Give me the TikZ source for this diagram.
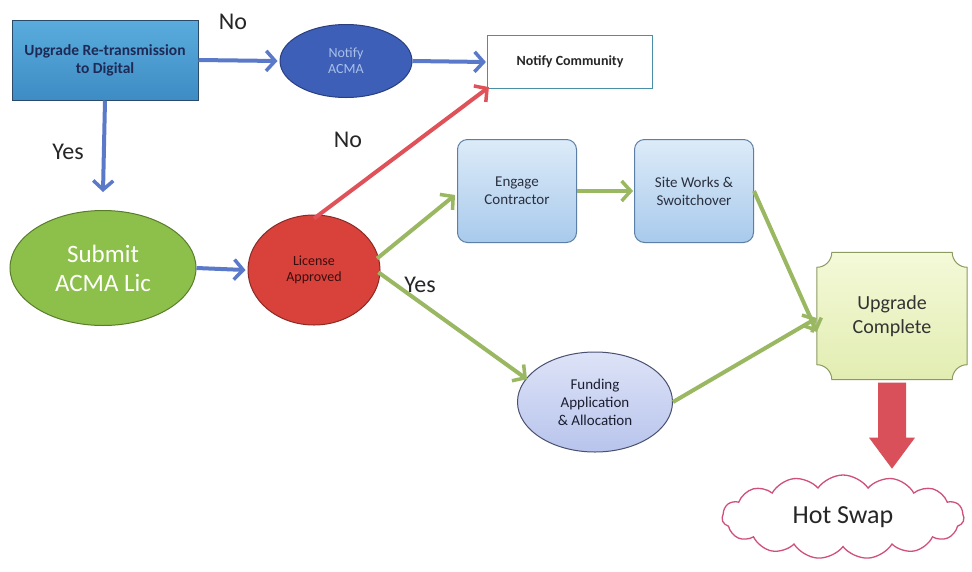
\documentclass[tikz,border=0pt]{standalone}
\usepackage{fontspec}
\setmainfont{Carlito}
\usetikzlibrary{arrows.meta,shapes.geometric,shapes.symbols}
\definecolor{bluearr}{HTML}{5B79C9}
\definecolor{greenarr}{HTML}{9AB862}
\definecolor{redarr}{HTML}{E0525A}
\definecolor{upD}{HTML}{2B4A6A}
\definecolor{upT}{HTML}{5AACDD}
\definecolor{upB}{HTML}{3D8CC4}
\definecolor{upTx}{HTML}{1E2A55}
\definecolor{acD}{HTML}{2A3F7F}
\definecolor{acF}{HTML}{3E5FB8}
\definecolor{acTx}{HTML}{A9C0E8}
\definecolor{ncD}{HTML}{4A8FA8}
\definecolor{suD}{HTML}{5A7D2A}
\definecolor{suF}{HTML}{8CC04B}
\definecolor{liD}{HTML}{8A2A25}
\definecolor{liF}{HTML}{D9413B}
\definecolor{liTx}{HTML}{3A0E0E}
\definecolor{bbD}{HTML}{5B7FA6}
\definecolor{bbT}{HTML}{DCEBF8}
\definecolor{bbB}{HTML}{A9CAEC}
\definecolor{bbTx}{HTML}{2A3040}
\definecolor{fuD}{HTML}{4A5070}
\definecolor{fuT}{HTML}{DDE3F7}
\definecolor{fuB}{HTML}{B8C4EC}
\definecolor{fuTx}{HTML}{1A1E30}
\definecolor{ucD}{HTML}{8A9A60}
\definecolor{ucT}{HTML}{F4F9D8}
\definecolor{ucB}{HTML}{E2EDB2}
\definecolor{hsD}{HTML}{D0507A}
\definecolor{baF}{HTML}{D9505A}
\tikzset{
  lbl/.style={font=\fontsize{24}{26}\selectfont, text=black!85},
  tip/.style={-{Straight Barb[length=9pt,width=20pt,line width=3.5pt]}},
  barrow/.style={draw=bluearr, line width=4pt, tip},
  garrow/.style={draw=greenarr, line width=4pt, tip},
  rarrow/.style={draw=redarr, line width=4pt, tip},
  bluebox/.style={rounded corners=10pt, draw=bbD, line width=1pt, top color=bbT, bottom color=bbB, minimum width=119pt, minimum height=103pt, align=center, font=\fontsize{15}{18}\selectfont, text=bbTx},
}
\begin{document}
\begin{tikzpicture}[x=1pt,y=1pt]
\useasboundingbox (0,0) rectangle (972,-571);
\fill[white] (0,0) rectangle (972,-571);

\node[draw=upD, line width=1pt, top color=upT, bottom color=upB, minimum width=186pt, minimum height=80pt, align=center, font=\fontsize{15.5}{18}\selectfont\bfseries, text=upTx] (up) at (105,-60) {Upgrade Re-transmission\\to Digital};

\node[ellipse, draw=acD, line width=1pt, fill=acF, minimum width=132pt, minimum height=73pt, align=center, font=\fontsize{14}{16}\selectfont, text=acTx] (acma) at (346,-61) {Notify\\ACMA};

\node[draw=ncD, line width=1.2pt, fill=white, minimum width=165pt, minimum height=53pt, font=\fontsize{14}{16}\selectfont\bfseries, text=black!85] (nc) at (570,-62) {Notify Community};

\node[ellipse, draw=suD, line width=1pt, fill=suF, minimum width=186pt, minimum height=115pt, align=center, font=\fontsize{25}{29}\selectfont, text=white] (sub) at (103,-268) {Submit\\ACMA Lic};

\node[ellipse, draw=liD, line width=1pt, fill=liF, minimum width=132pt, minimum height=110pt, align=center, font=\fontsize{14}{16}\selectfont, text=liTx] (lic) at (314,-270) {License\\Approved};

\node[bluebox] (eng) at (517,-191) {Engage\\Contractor};
\node[bluebox] (site) at (694,-191) {Site Works \&\\Swoitchover};

\node[ellipse, draw=fuD, line width=1pt, top color=fuT, bottom color=fuB, minimum width=155pt, minimum height=100pt, align=center, font=\fontsize{15}{18}\selectfont, text=fuTx] (fund) at (595,-402) {Funding\\Application\\\& Allocation};

\node[minimum width=150pt, minimum height=127pt] (uc) at (892,-316) {};
\path[draw=ucD, line width=1pt, top color=ucT, bottom color=ucB]
  ([xshift=15pt]uc.north west) -- ([xshift=-15pt]uc.north east)
  arc[start angle=180, end angle=270, radius=15pt] -- ([yshift=15pt]uc.south east)
  arc[start angle=90, end angle=180, radius=15pt] -- ([xshift=15pt]uc.south west)
  arc[start angle=0, end angle=90, radius=15pt] -- ([yshift=-15pt]uc.north west)
  arc[start angle=270, end angle=360, radius=15pt] -- cycle;
\node[align=center, font=\fontsize{20}{24}\selectfont, text=black!80] (uct) at (uc) {Upgrade\\Complete};

\node[cloud, cloud puffs=15, cloud puff arc=110, cloud ignores aspect, draw=hsD, line width=1.3pt, fill=white, minimum width=242pt, minimum height=84pt, font=\fontsize{26}{30}\selectfont, text=black!85] (hs) at (843,-517) {Hot Swap};

% block arrow
\coordinate (ba) at ([yshift=-3pt]uc.south);
\fill[baF] ([xshift=-14pt]ba) -- ([xshift=14pt]ba) -- ([xshift=14pt,yshift=-55pt]ba) -- ([xshift=23pt,yshift=-55pt]ba) -- ([yshift=-86pt]ba) -- ([xshift=-23pt,yshift=-55pt]ba) -- ([xshift=-14pt,yshift=-55pt]ba) -- cycle;

% connectors
\draw[barrow] (up.east) -- ([xshift=-2pt]acma.west);
\draw[barrow] (acma.east) -- ([xshift=-1pt]nc.west);
\draw[barrow] (up.south) -- ([yshift=18pt]sub.north);
\draw[barrow] (sub.east) -- ([xshift=-2pt]lic.west);
\draw[rarrow] ([yshift=-4pt]lic.north) -- ([xshift=2pt,yshift=2pt]nc.south west);
\draw[garrow] ([xshift=-2pt]lic.10) -- ([xshift=-2pt,yshift=-4pt]eng.west);
\draw[garrow] ([xshift=-2pt]lic.-2) -- ([xshift=0pt,yshift=-2pt]fund.160);
\draw[garrow] (eng.east) -- ([xshift=-1pt]site.west);
\draw[garrow] (site.east) -- ([yshift=-16pt]uc.west);
\draw[garrow] (fund.east) -- ([yshift=-2pt]uc.west);

\node[lbl] (l1) at (233,-22) {No};
\node[lbl] (l2) at (68,-152) {Yes};
\node[lbl] (l3) at (348,-140) {No};
\node[lbl] (l4) at (420,-285) {Yes};
\end{tikzpicture}
\end{document}
